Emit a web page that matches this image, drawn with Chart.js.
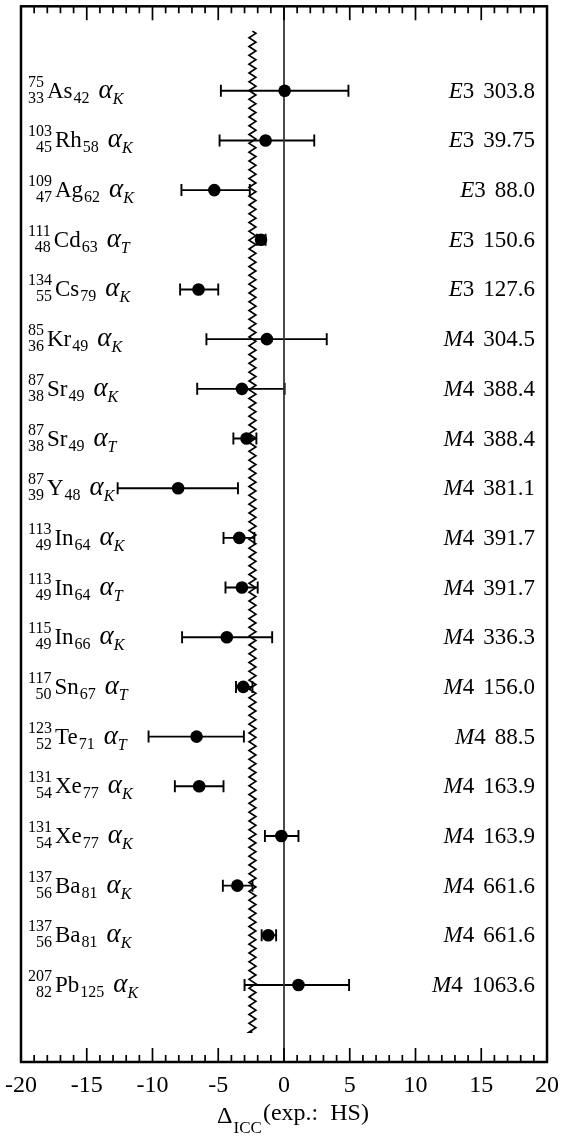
<!DOCTYPE html>
<html>
<head>
<meta charset="utf-8">
<title>ICC deviations</title>
<script src="https://cdn.jsdelivr.net/npm/chart.js@4.4.0/dist/chart.umd.min.js"></script>
<style>
  html, body { margin: 0; padding: 0; background: #fff; }
</style>
</head>
<body>
<canvas id="iccChart" width="561" height="1140"></canvas>
<script>
// one row per measured coefficient, top to bottom
const massNumbers = [75, 103, 109, 111, 134, 85, 87, 87, 87, 113, 113, 115, 117, 123, 131, 131, 137, 137, 207];
const protonNumbers = [33, 45, 47, 48, 55, 36, 38, 38, 39, 49, 49, 49, 50, 52, 54, 54, 56, 56, 82];
const neutronNumbers = [42, 58, 62, 63, 79, 49, 49, 49, 48, 64, 64, 66, 67, 71, 77, 77, 81, 81, 125];
const symbols = ['As', 'Rh', 'Ag', 'Cd', 'Cs', 'Kr', 'Sr', 'Sr', 'Y', 'In', 'In', 'In', 'Sn', 'Te', 'Xe', 'Xe', 'Ba', 'Ba', 'Pb'];
const shells = ['K', 'K', 'K', 'T', 'K', 'K', 'K', 'T', 'K', 'K', 'T', 'K', 'T', 'T', 'K', 'K', 'K', 'K', 'K'];
const multipolarity = ['E3', 'E3', 'E3', 'E3', 'E3', 'M4', 'M4', 'M4', 'M4', 'M4', 'M4', 'M4', 'M4', 'M4', 'M4', 'M4', 'M4', 'M4', 'M4'];
const energies = ['303.8', '39.75', '88.0', '150.6', '127.6', '304.5', '388.4', '388.4', '381.1', '391.7', '391.7', '336.3', '156.0', '88.5', '163.9', '163.9', '661.6', '661.6', '1063.6'];

// deviation (%) and the ends of its error bar
const delta = [0.05, -1.4, -5.3, -1.75, -6.5, -1.3, -3.2, -2.85, -8.05, -3.4, -3.2, -4.35, -3.1, -6.65, -6.45, -0.2, -3.55, -1.2, 1.1];
const deltaLow = [-4.8, -4.9, -7.8, -2.05, -7.9, -5.9, -6.6, -3.85, -12.65, -4.6, -4.45, -7.75, -3.65, -10.3, -8.3, -1.45, -4.65, -1.7, -3.0];
const deltaHigh = [4.9, 2.3, -2.6, -1.4, -5.0, 3.25, 0.05, -2.1, -3.5, -2.25, -2.0, -0.9, -2.4, -3.05, -4.6, 1.1, -2.4, -0.6, 4.95];

// weighted mean shown as the wavy line
const meanDelta = -2.4;

const tickLabels = [-20, -15, -10, -5, 0, 5, 10, 15, 20];
const xMin = -20, xMax = 20;
const yMin = -1.7, yMax = 19.55;

const SERIF = '"Liberation Serif", "DejaVu Serif", serif';

const points = delta.map((d, i) => ({ x: d, y: i }));

function drawRowLabel(ctx, i, y) {
  let x = 28;
  ctx.fillStyle = '#000';
  ctx.textAlign = 'left';
  ctx.textBaseline = 'alphabetic';

  // stacked A over Z, both right aligned against the symbol
  ctx.font = '16px ' + SERIF;
  const aw = ctx.measureText(String(massNumbers[i])).width;
  const zw = ctx.measureText(String(protonNumbers[i])).width;
  const w = Math.max(aw, zw);
  ctx.fillText(String(massNumbers[i]), x + w - aw, y - 4);
  ctx.fillText(String(protonNumbers[i]), x + w - zw, y + 12);
  x += w + 3;

  ctx.font = '23px ' + SERIF;
  ctx.fillText(symbols[i], x, y + 7);
  x += ctx.measureText(symbols[i]).width + 1;

  ctx.font = '16px ' + SERIF;
  ctx.fillText(String(neutronNumbers[i]), x, y + 12);
  x += ctx.measureText(String(neutronNumbers[i])).width + 9;

  ctx.font = 'italic 27px ' + SERIF;
  ctx.fillText('\u03B1', x, y + 7);
  x += ctx.measureText('\u03B1').width;

  ctx.font = 'italic 16px ' + SERIF;
  ctx.fillText(shells[i], x, y + 13);

  // multipolarity and transition energy on the right
  const right = 535;
  ctx.textAlign = 'right';
  ctx.font = '23px ' + SERIF;
  ctx.fillText(energies[i], right, y + 7);
  const ew = ctx.measureText(energies[i]).width;
  const digit = multipolarity[i].charAt(1);
  const dw = ctx.measureText(digit).width;
  ctx.fillText(digit, right - ew - 9, y + 7);
  ctx.font = 'italic 23px ' + SERIF;
  ctx.fillText(multipolarity[i].charAt(0), right - ew - 9 - dw, y + 7);
}

const iccPlugin = {
  id: 'iccPlugin',
  beforeDatasetsDraw(chart) {
    const ctx = chart.ctx;
    const xs = chart.scales.x, ys = chart.scales.y;
    ctx.save();

    // wavy line at the mean
    const mx = xs.getPixelForValue(meanDelta);
    const top = ys.getPixelForValue(-1.2);
    const bot = ys.getPixelForValue(18.95);
    ctx.beginPath();
    ctx.strokeStyle = '#000';
    ctx.lineWidth = 1.7;
    let side = 1;
    ctx.moveTo(mx, top);
    for (let yy = top + 2.2; yy < bot; yy += 4.4) {
      ctx.lineTo(mx + side * 3.4, yy);
      side = -side;
    }
    ctx.lineTo(mx, bot);
    ctx.stroke();

    // error bars with end caps
    ctx.lineWidth = 1.9;
    for (let i = 0; i < delta.length; i++) {
      const y = ys.getPixelForValue(i);
      const x0 = xs.getPixelForValue(deltaLow[i]);
      const x1 = xs.getPixelForValue(deltaHigh[i]);
      ctx.beginPath();
      ctx.moveTo(x0, y);
      ctx.lineTo(x1, y);
      ctx.moveTo(x0, y - 6);
      ctx.lineTo(x0, y + 6);
      ctx.moveTo(x1, y - 6);
      ctx.lineTo(x1, y + 6);
      ctx.stroke();
    }
    ctx.restore();
  },
  afterDatasetsDraw(chart) {
    const ctx = chart.ctx;
    const xs = chart.scales.x, ys = chart.scales.y;
    const a = chart.chartArea;
    ctx.save();

    // frame
    ctx.strokeStyle = '#000';
    ctx.lineWidth = 2.5;
    ctx.strokeRect(a.left, a.top, a.right - a.left, a.bottom - a.top);

    // inward ticks on top and bottom
    ctx.lineWidth = 1.7;
    ctx.beginPath();
    for (let v = xMin; v <= xMax; v++) {
      const px = xs.getPixelForValue(v);
      const len = v % 5 === 0 ? 14 : 7;
      ctx.moveTo(px, a.bottom);
      ctx.lineTo(px, a.bottom - len);
      ctx.moveTo(px, a.top);
      ctx.lineTo(px, a.top + len);
    }
    ctx.stroke();

    // tick labels
    ctx.fillStyle = '#000';
    ctx.font = '24px ' + SERIF;
    ctx.textAlign = 'center';
    ctx.textBaseline = 'alphabetic';
    tickLabels.forEach(v => {
      ctx.fillText(String(v), xs.getPixelForValue(v), a.bottom + 30);
    });

    // axis title: Delta_ICC(exp.: HS)
    const title1 = '\u0394', sub = 'ICC', title2 = '(exp.:  HS)';
    ctx.textAlign = 'left';
    ctx.font = '24px ' + SERIF;
    const w1 = ctx.measureText(title1).width;
    const w3 = ctx.measureText(title2).width;
    ctx.font = '17px ' + SERIF;
    const w2 = ctx.measureText(sub).width;
    let tx = (a.left + a.right) / 2 + 8 - (w1 + w2 + w3) / 2;
    const ty = a.bottom + 61;
    ctx.font = '24px ' + SERIF;
    ctx.fillText(title1, tx, ty);
    tx += w1 + 1;
    ctx.font = '17px ' + SERIF;
    ctx.fillText(sub, tx, ty + 10);
    tx += w2 + 1;
    ctx.font = '24px ' + SERIF;
    ctx.fillText(title2, tx, ty - 3);

    for (let i = 0; i < delta.length; i++) {
      drawRowLabel(ctx, i, ys.getPixelForValue(i));
    }
    ctx.restore();
  }
};

const iccChart = new Chart(document.getElementById('iccChart'), {
  type: 'scatter',
  data: {
    datasets: [
      {
        data: points,
        backgroundColor: '#000',
        borderWidth: 0,
        pointRadius: 6.3,
        pointHoverRadius: 6.3
      },
      {
        type: 'line',
        data: [{ x: 0, y: yMin }, { x: 0, y: yMax }],
        borderColor: '#333',
        borderWidth: 1,
        pointRadius: 0,
        fill: false
      }
    ]
  },
  options: {
    responsive: false,
    animation: false,
    devicePixelRatio: 1,
    layout: { padding: { left: 21, right: 14, top: 6, bottom: 78 } },
    plugins: { legend: { display: false }, tooltip: { enabled: false } },
    scales: {
      x: { type: 'linear', min: xMin, max: xMax, display: false },
      y: { type: 'linear', min: yMin, max: yMax, reverse: true, display: false }
    }
  },
  plugins: [iccPlugin]
});
</script>
</body>
</html>
